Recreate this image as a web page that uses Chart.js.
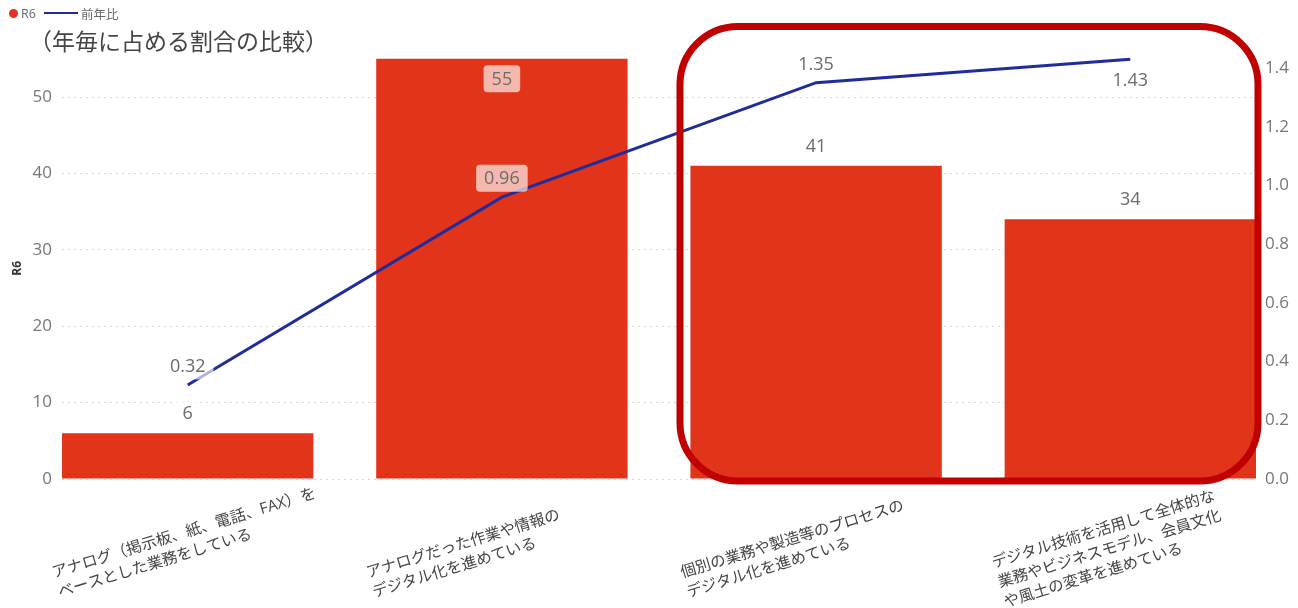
<!DOCTYPE html>
<html lang="ja">
<head>
<meta charset="utf-8">
<title>年毎に占める割合の比較</title>
<script src="https://cdn.jsdelivr.net/npm/chart.js@4.4.1/dist/chart.umd.min.js"></script>
<style>
  html, body { margin: 0; padding: 0; background: #fff; }
  #wrap { position: relative; width: 1298px; height: 608px; }
  #legend {
    position: absolute; left: 9px; top: 5px; height: 16px;
    display: flex; align-items: center;
    font: 12.5px 'Segoe UI', 'Open Sans', 'Noto Sans CJK JP', sans-serif; color: #666;
  }
  #legend .dot { width: 9px; height: 9px; border-radius: 50%; background: #e1341b; margin-right: 3px; }
  #legend .line { width: 34px; height: 2px; background: #1f2c9c; margin: 0 3px 0 8px; }
</style>
</head>
<body>
<div id="wrap">
  <canvas id="ratioChart" width="1298" height="608"></canvas>
  <div id="legend"><span class="dot"></span><span>R6</span><span class="line"></span><span>前年比</span></div>
</div>
<script>
// categories (multi-line, as wrapped in the report)
const categories = [
  ['アナログ（掲示板、紙、電話、FAX）を', 'ベースとした業務をしている'],
  ['アナログだった作業や情報の', 'デジタル化を進めている'],
  ['個別の業務や製造等のプロセスの', 'デジタル化を進めている'],
  ['デジタル技術を活用して全体的な', '業務やビジネスモデル、会員文化', 'や風土の変革を進めている']
];
const r6Values = [6, 55, 41, 34];
const yoyValues = [0.32, 0.96, 1.35, 1.43];
const leftTicks = [0, 10, 20, 30, 40, 50];
const rightTicks = [0, 0.2, 0.4, 0.6, 0.8, 1.0, 1.2, 1.4];

const FONT = "'Segoe UI', 'Open Sans', 'Noto Sans CJK JP', sans-serif";
const BAR_RED = '#e1341b';
const LINE_BLUE = '#1f2c9c';

// value labels with the translucent backdrop power bi uses
const valueLabels = {
  id: 'valueLabels',
  afterDatasetsDraw(chart) {
    const { ctx, chartArea } = chart;
    ctx.save();
    ctx.font = '18px ' + FONT;
    ctx.textAlign = 'center';
    ctx.textBaseline = 'middle';
    chart.data.datasets.forEach((ds, di) => {
      const meta = chart.getDatasetMeta(di);
      meta.data.forEach((el, i) => {
        const v = ds.data[i].y;
        const isLine = ds.type === 'line';
        const text = isLine ? v.toFixed(2) : String(v);
        const gap = isLine ? 19 : 20;
        let y = el.y - gap;
        if (y < chartArea.top + 2) y = el.y + (isLine ? 21 : 20);
        const w = ctx.measureText(text).width + 16;
        ctx.fillStyle = 'rgba(255,255,255,0.65)';
        ctx.beginPath();
        ctx.roundRect(el.x - w / 2, y - 13.5, w, 27, 4);
        ctx.fill();
        ctx.fillStyle = '#6b6b6b';
        ctx.fillText(text, el.x, y + 1);
      });
    });
    ctx.restore();
  }
};

// rotated, left aligned category labels under each bar
const categoryLabels = {
  id: 'categoryLabels',
  afterDraw(chart) {
    const { ctx, chartArea } = chart;
    const xs = chart.scales.x;
    const angle = -17 * Math.PI / 180;
    ctx.save();
    ctx.font = '15.5px ' + FONT;
    ctx.fillStyle = '#444';
    ctx.textAlign = 'left';
    ctx.textBaseline = 'middle';
    categories.forEach((lines, i) => {
      ctx.save();
      ctx.translate(xs.getPixelForValue(i), chartArea.bottom + 64);
      ctx.rotate(angle);
      lines.forEach((line, j) => {
        ctx.fillText(line, -138, (j - (lines.length - 1) / 2) * 20.5);
      });
      ctx.restore();
    });
    ctx.restore();
  }
};

// red rounded frame around the last two categories
const highlightBox = {
  id: 'highlightBox',
  afterDraw(chart) {
    const { ctx, chartArea } = chart;
    const xs = chart.scales.x;
    const left = xs.getPixelForValue(1.5) + 21;
    const right = chartArea.right + 2;
    const top = chartArea.top - 31;
    const bottom = chartArea.bottom + 2;
    ctx.save();
    ctx.strokeStyle = '#c00000';
    ctx.lineWidth = 7;
    ctx.beginPath();
    ctx.roundRect(left, top, right - left, bottom - top, 58);
    ctx.stroke();
    ctx.restore();
  }
};

const ctx = document.getElementById('ratioChart').getContext('2d');
new Chart(ctx, {
  type: 'bar',
  data: {
    datasets: [
      {
        type: 'line',
        label: '前年比',
        data: yoyValues.map((v, i) => ({ x: i, y: v })),
        yAxisID: 'y1',
        borderColor: LINE_BLUE,
        borderWidth: 3,
        pointRadius: 0,
        tension: 0,
        order: 0
      },
      {
        type: 'bar',
        label: 'R6',
        data: r6Values.map((v, i) => ({ x: i, y: v })),
        yAxisID: 'y',
        backgroundColor: BAR_RED,
        barPercentage: 0.8,
        categoryPercentage: 1.0,
        order: 1
      }
    ]
  },
  options: {
    responsive: false,
    animation: false,
    devicePixelRatio: 1,
    layout: { padding: { left: 29, right: 0, top: 0, bottom: 0 } },
    plugins: {
      legend: { display: false },
      tooltip: { enabled: false },
      title: {
        display: true,
        text: '（年毎に占める割合の比較）',
        align: 'start',
        color: '#444',
        font: { family: FONT, size: 23, weight: 'normal' },
        padding: { top: 30, bottom: 0 }
      }
    },
    scales: {
      x: {
        type: 'linear',
        min: -0.4,
        max: 3.4,
        offset: false,
        afterBuildTicks: s => { s.ticks = categories.map((c, i) => ({ value: i })); },
        grid: { display: false, offset: false },
        border: { display: false },
        ticks: { display: false },
        afterFit: s => { s.height = 129; }
      },
      y: {
        position: 'left',
        min: 0,
        max: 55.16,
        afterBuildTicks: s => { s.ticks = leftTicks.map(v => ({ value: v })); },
        ticks: { color: '#777', font: { family: FONT, size: 17 }, padding: 10 },
        grid: { color: '#d6d6d6', drawTicks: false },
        border: { display: false, dash: [2, 4] },
        title: {
          display: true, text: 'R6', color: '#333',
          font: { family: FONT, size: 12, weight: 'bold' },
          padding: { top: -19, bottom: 0 }
        },
        afterFit: s => { s.width = 33; }
      },
      y1: {
        position: 'right',
        min: 0,
        max: 1.4354,
        afterBuildTicks: s => { s.ticks = rightTicks.map(v => ({ value: v })); },
        ticks: {
          color: '#777', font: { family: FONT, size: 17 }, padding: 9,
          callback: v => v.toFixed(1)
        },
        grid: { drawOnChartArea: false, drawTicks: false },
        border: { display: false },
        afterFit: s => { s.width = 42; }
      }
    }
  },
  plugins: [valueLabels, categoryLabels, highlightBox]
});
</script>
</body>
</html>
